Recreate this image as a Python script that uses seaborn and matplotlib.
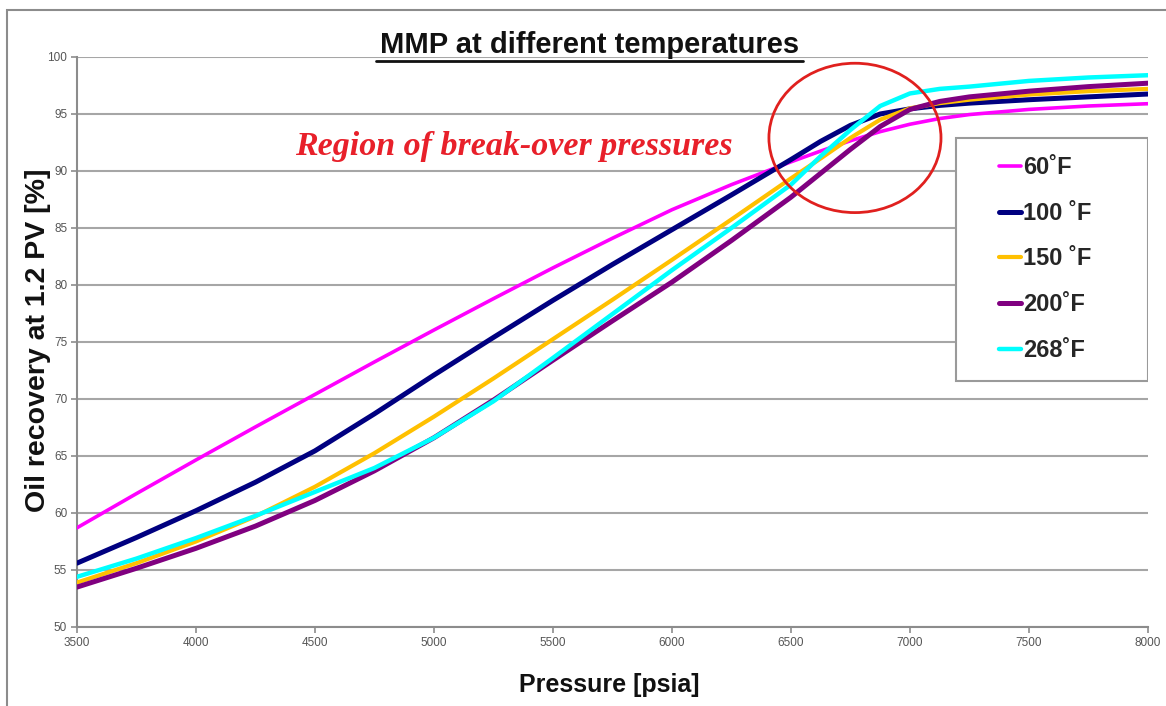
import matplotlib
matplotlib.use("Agg")
import matplotlib.pyplot as plt
from matplotlib.patches import Ellipse, Rectangle
from matplotlib.lines import Line2D
import pandas as pd
import seaborn as sns

# Injection pressure (psia); denser sampling around the break-over knee
pressure = [3500, 3750, 4000, 4250, 4500, 4750, 5000, 5250, 5500, 5750,
            6000, 6250, 6500, 6625, 6750, 6875, 7000, 7125, 7250, 7500,
            7750, 8000]

# Oil recovery at 1.2 PV injected (%) for each temperature
rec_60F = [58.7, 61.7, 64.65, 67.55, 70.4, 73.25, 76.05, 78.8, 81.5, 84.1,
           86.6, 88.8, 90.8, 91.75, 92.65, 93.45, 94.1, 94.6, 94.95, 95.4,
           95.7, 95.9]
rec_100F = [55.6, 57.85, 60.2, 62.7, 65.45, 68.7, 72.1, 75.4, 78.65, 81.8,
            84.85, 87.9, 91.0, 92.6, 94.0, 95.0, 95.45, 95.75, 95.95, 96.25,
            96.5, 96.75]
rec_150F = [53.9, 55.6, 57.5, 59.7, 62.3, 65.25, 68.45, 71.8, 75.25, 78.7,
            82.2, 85.75, 89.35, 91.1, 92.9, 94.5, 95.5, 95.95, 96.25, 96.7,
            97.0, 97.2]
rec_200F = [53.5, 55.15, 56.9, 58.85, 61.1, 63.7, 66.6, 69.9, 73.4, 76.85,
            80.25, 83.9, 87.7, 89.8, 91.9, 93.9, 95.4, 96.1, 96.5, 97.0,
            97.4, 97.7]
rec_268F = [54.4, 56.0, 57.8, 59.75, 61.85, 63.95, 66.6, 69.8, 73.6, 77.45,
            81.3, 85.0, 88.8, 91.3, 93.6, 95.7, 96.8, 97.2, 97.4, 97.9,
            98.2, 98.4]

temp_labels = ["60\u02daF", "100 \u02daF", "150 \u02daF", "200\u02daF", "268\u02daF"]
series = [rec_60F, rec_100F, rec_150F, rec_200F, rec_268F]
colors = ["#ff00ff", "#000080", "#ffc000", "#800080", "#00ffff"]
widths = [2.6, 3.6, 3.0, 3.6, 3.2]

x_ticks = [3500, 4000, 4500, 5000, 5500, 6000, 6500, 7000, 7500, 8000]
y_ticks = [50, 55, 60, 65, 70, 75, 80, 85, 90, 95, 100]

sns.set_style("white")
plt.rcParams['font.family'] = ['Liberation Sans', 'DejaVu Sans']
NARROW = ['Liberation Sans Narrow', 'Liberation Sans', 'DejaVu Sans']

rows = []
for lab, vals in zip(temp_labels, series):
    for p, v in zip(pressure, vals):
        rows.append({"Pressure": p, "Recovery": v, "Temperature": lab})
df = pd.DataFrame(rows)

fig = plt.figure(figsize=(11.66, 7.06), dpi=100)
ax = fig.add_axes([0.066, 0.1119, 0.9185, 0.8074])

sns.lineplot(data=df, x="Pressure", y="Recovery", hue="Temperature",
             hue_order=temp_labels, palette=dict(zip(temp_labels, colors)),
             ax=ax, legend=False, zorder=3)
for line, w in zip(ax.get_lines(), widths):
    line.set_linewidth(w)
    line.set_solid_capstyle("round")
    line.set_solid_joinstyle("round")

ax.set_xlim(3500, 8000)
ax.set_ylim(50, 100)
ax.set_xticks(x_ticks)
ax.set_yticks(y_ticks)
ax.yaxis.grid(True, color="#a6a6a6", lw=1.5)
ax.xaxis.grid(False)
ax.set_axisbelow(True)
for side in ("top", "right"):
    ax.spines[side].set_visible(False)
for side in ("left", "bottom"):
    ax.spines[side].set_color("#8c8c8c")
    ax.spines[side].set_linewidth(1.5)
ax.tick_params(bottom=True, left=True, direction="out", length=4, width=1.2,
               color="#8c8c8c", labelsize=8.5, labelcolor="#555555", pad=3)
for t in ax.get_xticklabels() + ax.get_yticklabels():
    t.set_family(NARROW)

ax.set_xlabel("Pressure [psia]", fontsize=18, fontweight="bold",
              family=NARROW, color="#111111", va="center", ha="center")
ax.xaxis.set_label_coords(0.4967, -0.1018)
ax.set_ylabel("Oil recovery at 1.2 PV [%]", fontsize=20.5, fontweight="bold",
              color="#111111", va="center", ha="center")
ax.yaxis.set_label_coords(-0.0364, 0.5035)

# Break-over region marker
ax.add_patch(Ellipse((6769, 92.9), width=723, height=13.1, fill=False,
                     edgecolor="#e0201e", lw=2, zorder=4))
fig.text(514 / 1166, 1 - 147 / 706, "Region of break-over pressures",
         ha="center", va="center", fontsize=24.5, fontweight="bold",
         style="italic", family=["Liberation Serif", "DejaVu Serif"],
         color="#e8202a")

# Legend box
ax.add_patch(Rectangle((0.8207, 0.4316), 0.1793, 0.4263, transform=ax.transAxes,
                       facecolor="white", edgecolor="#9a9a9a", lw=1.5,
                       zorder=5))
handles = [Line2D([], [], color=c, lw=w) for c, w in zip(colors, widths)]
leg = ax.legend(handles, temp_labels, loc="upper left",
                bbox_to_anchor=(0.861, 0.826), frameon=False,
                prop={"family": NARROW, "weight": "bold", "size": 17},
                handlelength=0.95, handletextpad=0.05, labelspacing=0.96,
                borderpad=0, borderaxespad=0)
leg.set_zorder(6)

# Underlined title
title = fig.text(590 / 1166, 1 - 45 / 706, "MMP at different temperatures",
                 ha="center", va="center", fontsize=21, fontweight="bold",
                 family=NARROW, color="#111111")
fig.canvas.draw()
bb = title.get_window_extent().transformed(fig.transFigure.inverted())
uy = 1 - 61 / 706
fig.add_artist(Line2D([bb.x0 - 0.004, bb.x1 + 0.003], [uy, uy],
                      transform=fig.transFigure, color="#111111", lw=2))

# Outer frame
fig.add_artist(Rectangle((7 / 1166, -0.05), 1.2, 1 - 10 / 706 + 0.05,
                         transform=fig.transFigure, fill=False,
                         edgecolor="#8c8c8c", lw=1.5))

fig.savefig("out.png", dpi=100)
